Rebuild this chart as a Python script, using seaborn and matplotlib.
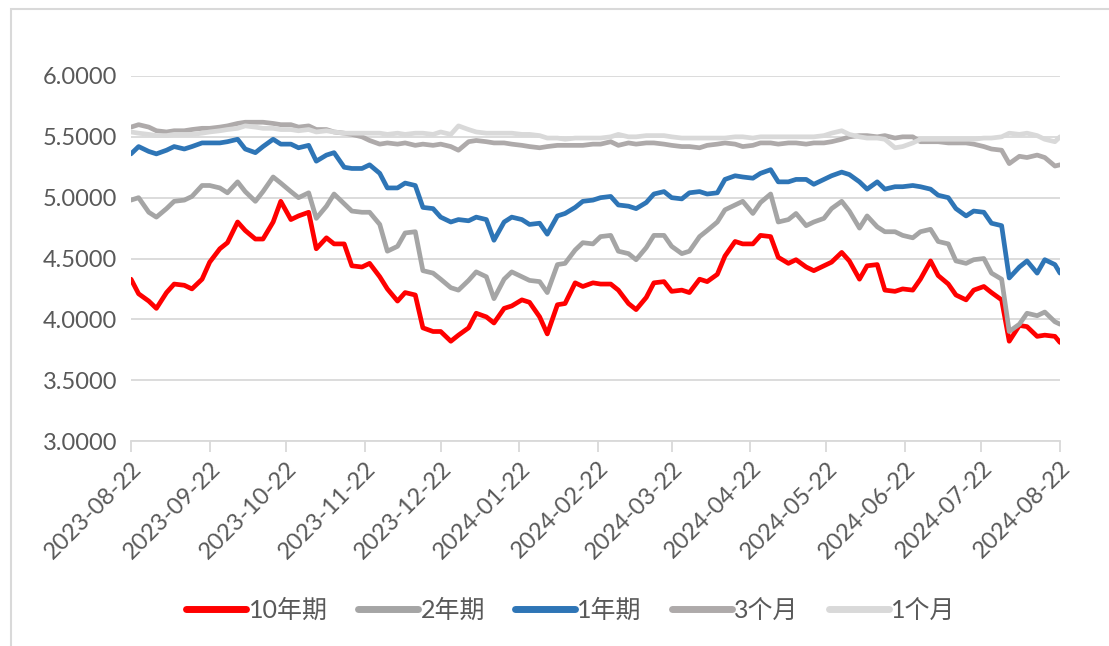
import matplotlib
matplotlib.use("Agg")
import matplotlib.pyplot as plt
from matplotlib.patches import Rectangle
from matplotlib.lines import Line2D
import seaborn as sns
import pandas as pd

# Observation dates: Tuesdays and Fridays plus the final day
dates = sorted(set(pd.date_range("2023-08-22", "2024-08-22", freq="W-TUE"))
               | set(pd.date_range("2023-08-22", "2024-08-22", freq="W-FRI"))
               | {pd.Timestamp("2024-08-22")})

y10 = [4.33, 4.21, 4.15, 4.09, 4.22, 4.29, 4.28, 4.25, 4.33, 4.47,
       4.58, 4.63, 4.80, 4.73, 4.66, 4.66, 4.80, 4.97, 4.82, 4.85,
       4.88, 4.58, 4.67, 4.62, 4.62, 4.44, 4.43, 4.46, 4.35, 4.25,
       4.15, 4.22, 4.20, 3.93, 3.90, 3.90, 3.82, 3.87, 3.93, 4.05,
       4.02, 3.97, 4.09, 4.11, 4.16, 4.14, 4.02, 3.88, 4.12, 4.13,
       4.30, 4.27, 4.30, 4.29, 4.29, 4.24, 4.13, 4.08, 4.18, 4.30,
       4.31, 4.23, 4.24, 4.22, 4.33, 4.31, 4.37, 4.52, 4.64, 4.62,
       4.62, 4.69, 4.68, 4.51, 4.46, 4.49, 4.43, 4.40, 4.44, 4.47,
       4.55, 4.48, 4.33, 4.44, 4.45, 4.24, 4.23, 4.25, 4.24, 4.33,
       4.48, 4.36, 4.29, 4.20, 4.16, 4.24, 4.27, 4.22, 4.16, 3.82,
       3.95, 3.94, 3.86, 3.87, 3.86, 3.81]

y2 = [4.98, 5.00, 4.88, 4.84, 4.91, 4.97, 4.98, 5.01, 5.10, 5.10,
      5.08, 5.04, 5.13, 5.05, 4.97, 5.05, 5.17, 5.12, 5.05, 5.00,
      5.04, 4.83, 4.93, 5.03, 4.95, 4.89, 4.88, 4.88, 4.78, 4.56,
      4.60, 4.71, 4.72, 4.40, 4.38, 4.33, 4.26, 4.24, 4.32, 4.39,
      4.35, 4.17, 4.33, 4.39, 4.35, 4.32, 4.31, 4.22, 4.45, 4.46,
      4.57, 4.63, 4.62, 4.68, 4.69, 4.56, 4.54, 4.49, 4.59, 4.69,
      4.69, 4.60, 4.54, 4.56, 4.68, 4.73, 4.80, 4.90, 4.94, 4.97,
      4.87, 4.96, 5.03, 4.80, 4.82, 4.87, 4.77, 4.80, 4.83, 4.91,
      4.97, 4.89, 4.75, 4.85, 4.76, 4.72, 4.72, 4.69, 4.67, 4.72,
      4.74, 4.64, 4.62, 4.48, 4.46, 4.49, 4.50, 4.38, 4.33, 3.90,
      3.96, 4.05, 4.03, 4.06, 3.98, 3.96]

y1 = [5.36, 5.42, 5.38, 5.36, 5.39, 5.42, 5.40, 5.42, 5.45, 5.45,
      5.45, 5.46, 5.48, 5.40, 5.37, 5.42, 5.48, 5.44, 5.44, 5.41,
      5.43, 5.30, 5.35, 5.37, 5.25, 5.24, 5.24, 5.27, 5.20, 5.08,
      5.08, 5.12, 5.10, 4.92, 4.91, 4.84, 4.80, 4.82, 4.81, 4.84,
      4.82, 4.65, 4.80, 4.84, 4.82, 4.78, 4.79, 4.70, 4.85, 4.87,
      4.92, 4.97, 4.98, 5.00, 5.01, 4.94, 4.93, 4.91, 4.96, 5.03,
      5.05, 5.00, 4.99, 5.04, 5.05, 5.03, 5.04, 5.15, 5.18, 5.17,
      5.16, 5.20, 5.23, 5.13, 5.13, 5.15, 5.15, 5.11, 5.15, 5.18,
      5.21, 5.19, 5.13, 5.07, 5.13, 5.07, 5.09, 5.09, 5.10, 5.09,
      5.07, 5.02, 5.00, 4.91, 4.85, 4.89, 4.88, 4.79, 4.77, 4.34,
      4.43, 4.48, 4.38, 4.49, 4.45, 4.38]

m3 = [5.58, 5.60, 5.58, 5.55, 5.54, 5.55, 5.55, 5.56, 5.57, 5.57,
      5.58, 5.59, 5.61, 5.62, 5.62, 5.62, 5.61, 5.60, 5.60, 5.58,
      5.59, 5.56, 5.56, 5.54, 5.53, 5.52, 5.50, 5.47, 5.44, 5.45,
      5.44, 5.45, 5.43, 5.44, 5.43, 5.44, 5.42, 5.39, 5.46, 5.47,
      5.46, 5.45, 5.45, 5.44, 5.43, 5.42, 5.41, 5.42, 5.43, 5.43,
      5.43, 5.43, 5.44, 5.44, 5.46, 5.43, 5.45, 5.44, 5.45, 5.45,
      5.44, 5.43, 5.42, 5.42, 5.41, 5.43, 5.44, 5.45, 5.44, 5.42,
      5.43, 5.45, 5.45, 5.44, 5.45, 5.45, 5.44, 5.45, 5.45, 5.46,
      5.48, 5.50, 5.51, 5.51, 5.50, 5.51, 5.49, 5.50, 5.50, 5.46,
      5.46, 5.46, 5.45, 5.45, 5.45, 5.44, 5.42, 5.40, 5.39, 5.28,
      5.34, 5.33, 5.35, 5.33, 5.26, 5.27]

m1 = [5.54, 5.53, 5.52, 5.51, 5.51, 5.52, 5.52, 5.52, 5.53, 5.54,
      5.55, 5.56, 5.57, 5.59, 5.58, 5.57, 5.57, 5.56, 5.56, 5.55,
      5.56, 5.54, 5.55, 5.54, 5.53, 5.53, 5.53, 5.53, 5.53, 5.52,
      5.53, 5.52, 5.53, 5.53, 5.52, 5.54, 5.52, 5.59, 5.56, 5.54,
      5.53, 5.53, 5.53, 5.53, 5.52, 5.52, 5.51, 5.49, 5.49, 5.48,
      5.49, 5.49, 5.49, 5.49, 5.50, 5.52, 5.50, 5.50, 5.51, 5.51,
      5.51, 5.50, 5.49, 5.49, 5.49, 5.49, 5.49, 5.49, 5.50, 5.50,
      5.49, 5.50, 5.50, 5.50, 5.50, 5.50, 5.50, 5.50, 5.51, 5.53,
      5.55, 5.52, 5.50, 5.49, 5.49, 5.48, 5.41, 5.42, 5.45, 5.48,
      5.48, 5.48, 5.48, 5.48, 5.48, 5.48, 5.49, 5.49, 5.50, 5.53,
      5.52, 5.53, 5.51, 5.48, 5.46, 5.50]

series_names = ["10年期", "2年期", "1年期", "3个月", "1个月"]
series_values = [y10, y2, y1, m3, m1]
colors = ["#FF0000", "#A5A5A5", "#2E75B6", "#AEAAAA", "#D9D9D9"]
tick_dates = pd.date_range("2023-08-01", "2024-08-01", freq="MS") + pd.Timedelta(days=21)
y_ticks = [3.0, 3.5, 4.0, 4.5, 5.0, 5.5, 6.0]

frames = [pd.DataFrame({"date": dates, "value": v, "series": n})
          for n, v in zip(series_names, series_values)]
df = pd.concat(frames, ignore_index=True)

sns.set_theme(style="white")
plt.rcParams["font.family"] = ["Lato", "Noto Sans CJK SC", "DejaVu Sans"]

fig = plt.figure(figsize=(11.09, 6.46), dpi=100)
ax = fig.add_axes([131 / 1109, 1 - 441 / 646, (1060 - 131) / 1109, (441 - 76) / 646])

sns.lineplot(data=df, x="date", y="value", hue="series", hue_order=series_names,
             palette=dict(zip(series_names, colors)), linewidth=3.4,
             legend=False, ax=ax, estimator=None, sort=True)

ax.set_xlim(pd.Timestamp("2023-08-22"), pd.Timestamp("2024-08-22"))
ax.set_ylim(3.0, 6.0)
ax.set_yticks(y_ticks)
ax.set_yticklabels([f"{t:.4f}" for t in y_ticks], fontsize=17, color="#595959")
ax.set_xticks(tick_dates)
ax.set_xticklabels([d.strftime("%Y-%m-%d") for d in tick_dates], rotation=45,
                   ha="right", rotation_mode="anchor", fontsize=17, color="#595959")
ax.set_xlabel("")
ax.set_ylabel("")

ax.grid(axis="y", color="#D9D9D9", linewidth=1.3)
ax.set_axisbelow(True)
for side in ["left", "right", "top"]:
    ax.spines[side].set_visible(False)
ax.spines["bottom"].set_color("#D9D9D9")
ax.spines["bottom"].set_linewidth(1.3)
ax.tick_params(axis="x", which="major", length=8, width=1.3, color="#D9D9D9",
               direction="out", pad=4, bottom=True)
ax.tick_params(axis="y", length=0, pad=10)

handles = [Line2D([0], [0], color=c, linewidth=5, solid_capstyle="round") for c in colors]
fig.legend(handles, series_names, loc="center", bbox_to_anchor=(0.515, 1 - 610 / 646),
           ncol=5, frameon=False, fontsize=18, handlelength=2.4, columnspacing=1.2,
           handletextpad=0.1, labelcolor="#595959")

# Chart-area outline
fig.patches.append(Rectangle((11 / 1109, -0.05), 1.2, 1 - 9 / 646 + 0.05,
                             transform=fig.transFigure, fill=False,
                             edgecolor="#D9D9D9", linewidth=1.5, zorder=0))

fig.savefig("out.png", dpi=100)
